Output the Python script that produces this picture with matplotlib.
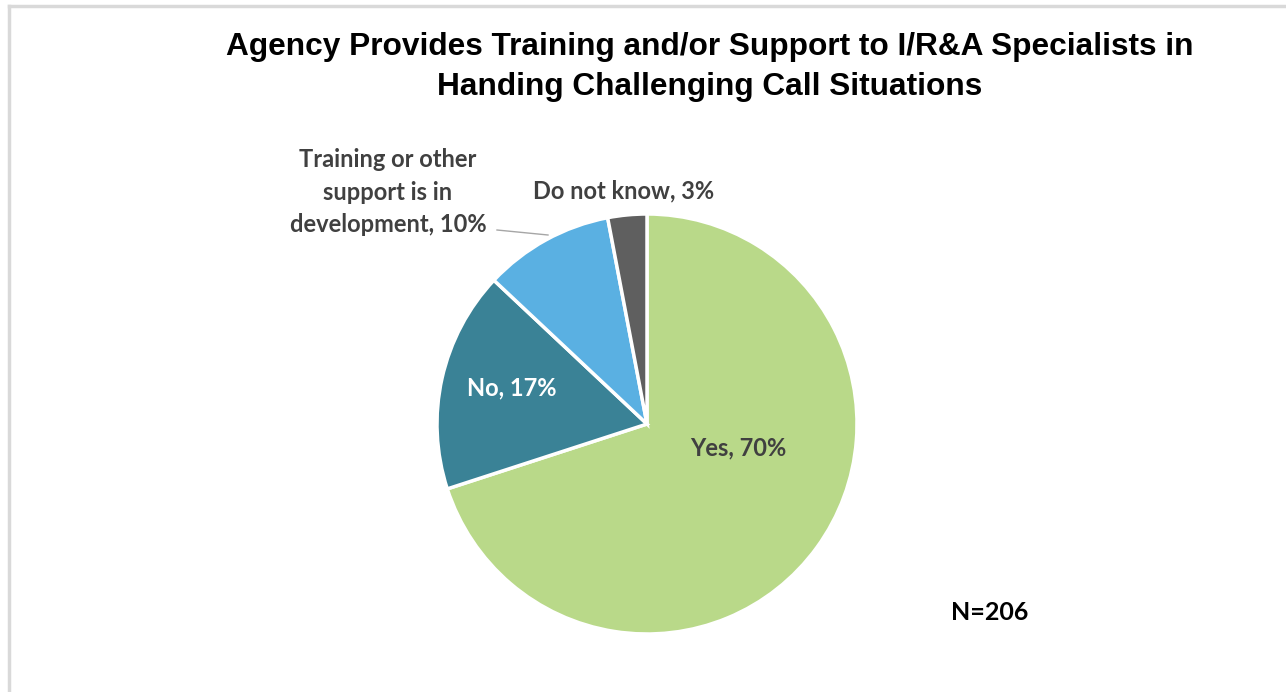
import matplotlib.pyplot as plt
from matplotlib.lines import Line2D

# data
labels = ["Yes", "No", "Training or other\nsupport is in\ndevelopment", "Do not know"]
values = [70, 17, 10, 3]
colors = ["#B9D989", "#3A8296", "#5AB0E2", "#5F5F5F"]
title = "Agency Provides Training and/or Support to I/R&A Specialists in\nHanding Challenging Call Situations"
note = "N=206"

W, H = 1286, 692
fig = plt.figure(figsize=(W / 100, H / 100), dpi=100)
ax = fig.add_axes([0, 0, 1, 1])

# light grey frame (top and left visible)
fig.add_artist(Line2D([9 / W, 1], [1 - 6 / H, 1 - 6 / H], color="#D9D9D9", lw=2.5))
fig.add_artist(Line2D([9 / W, 9 / W], [0, 1 - 6 / H], color="#D9D9D9", lw=2.5))

cx, cy, r = 647, H - 424, 210
ax.pie(values, colors=colors, startangle=90, counterclock=False,
       center=(cx, cy), radius=r, frame=True,
       wedgeprops=dict(edgecolor="white", linewidth=2.5))
ax.set_xlim(0, W)
ax.set_ylim(0, H)
ax.set_aspect("equal")
ax.axis("off")

ax.text(710, H - 67, title, ha="center", va="center", fontsize=22.8,
        fontweight="bold", family="Liberation Sans", color="black", linespacing=1.4)

lab_font = dict(fontsize=17, fontweight="bold", family="Lato")
ax.text(738, H - 448, f"{labels[0]}, {values[0]}%", ha="center", va="center",
        color="#404040", **lab_font)
ax.text(512, H - 388, f"{labels[1]}, {values[1]}%", ha="center", va="center",
        color="white", **lab_font)
ax.text(388, H - 192, f"{labels[2]}, {values[2]}%", ha="center", va="center",
        color="#404040", linespacing=1.5, **lab_font)
ax.text(624, H - 191, f"{labels[3]}, {values[3]}%", ha="center", va="center",
        color="#404040", **lab_font)
ax.plot([497, 548], [H - 230, H - 235], color="#A6A6A6", lw=1)

ax.text(990, H - 613, note, ha="center", va="center", color="black",
        fontsize=18, fontweight="bold", family="Lato")

fig.savefig("out.png", dpi=100, facecolor="white")
